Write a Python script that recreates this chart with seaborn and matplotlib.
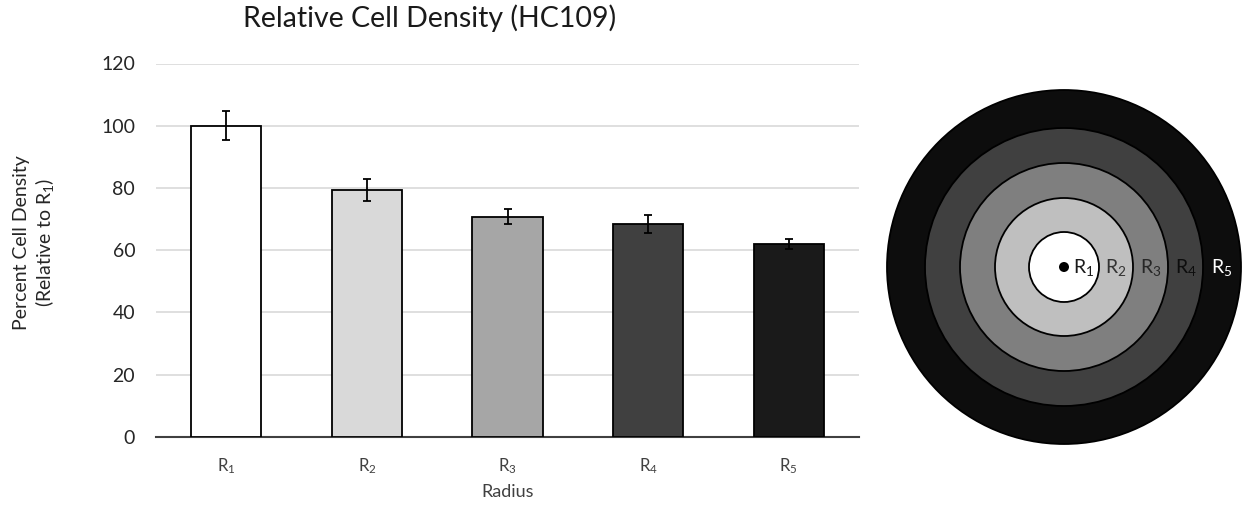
import numpy as np
import pandas as pd
import matplotlib
matplotlib.use("Agg")
import matplotlib.pyplot as plt
from matplotlib.patches import Circle
import seaborn as sns

# data
radius_labels = ["R$_1$", "R$_2$", "R$_3$", "R$_4$", "R$_5$"]
density = [100.0, 79.3, 70.8, 68.4, 62.0]
density_err = [4.7, 3.5, 2.5, 3.0, 1.7]
bar_colors = ["#ffffff", "#d9d9d9", "#a6a6a6", "#404040", "#1a1a1a"]

# schematic of the rings (outer radius of each zone, pixels)
ring_radii = [35, 69, 104, 139, 177]
ring_colors = ["#ffffff", "#bfbfbf", "#7f7f7f", "#404040", "#0d0d0d"]
ring_text_colors = ["#1a1a1a", "#333333", "#262626", "#0d0d0d", "#ffffff"]

sns.set_style("white")
plt.rcParams["font.family"] = ["Lato", "DejaVu Sans"]
plt.rcParams["mathtext.fontset"] = "custom"
plt.rcParams["mathtext.rm"] = "Lato"
plt.rcParams["mathtext.it"] = "Lato"

df = pd.DataFrame({"radius": radius_labels, "density": density})

fig = plt.figure(figsize=(12.51, 5.05), dpi=100)
ax = fig.add_axes([156 / 1251, 68.3 / 505, 703 / 1251, 373.2 / 505])

sns.barplot(data=df, x="radius", y="density", hue="radius", palette=bar_colors,
            legend=False, width=0.5, edgecolor="black", linewidth=1.3, ax=ax, zorder=3)
ax.errorbar(range(len(density)), density, yerr=density_err, fmt="none",
            ecolor="black", elinewidth=1.3, capsize=3, capthick=1.3, zorder=4)

ax.set_ylim(0, 120)
ax.set_xlim(-0.5, 4.5)
ax.set_yticks(range(0, 121, 20))
ax.yaxis.grid(True, color="#d9d9d9", linewidth=1.2, zorder=0)
ax.set_axisbelow(True)
for s in ["top", "right", "left"]:
    ax.spines[s].set_visible(False)
ax.spines["bottom"].set_color("#404040")
ax.spines["bottom"].set_linewidth(1.5)
ax.tick_params(axis="y", length=0, pad=15, labelsize=14, labelcolor="#262626")
ax.tick_params(axis="x", length=0, pad=14, labelsize=12, labelcolor="#404040")

ax.set_xlabel("Radius", fontsize=13, color="#404040", labelpad=6)
ax.set_ylabel("Percent Cell Density\n(Relative to R$_1$)", fontsize=14,
              color="#262626", linespacing=1.2)
ax.yaxis.set_label_coords(-0.142, 0.52)
ax.set_title("Relative Cell Density (HC109)", fontsize=20.5, color="#1a1a1a",
             x=(430 - 156) / 703, pad=26)

# ring diagram
cx = fig.add_axes([884 / 1251, 58 / 505, 360 / 1251, 360 / 505])
cx.set_xlim(-180, 180)
cx.set_ylim(-180, 180)
cx.set_aspect("equal")
cx.axis("off")
for r, c in zip(ring_radii[::-1], ring_colors[::-1]):
    cx.add_patch(Circle((0, 0), r, facecolor=c, edgecolor="black", linewidth=1.3))
cx.add_patch(Circle((0, 0), 5, facecolor="black", edgecolor="none"))
inner = [0] + ring_radii[:-1]
for i, lab in enumerate(radius_labels):
    xm = (inner[i] + ring_radii[i]) / 2
    if i == 0:
        xm = 20
    cx.text(xm, -1, lab, ha="center", va="center", fontsize=14,
            color=ring_text_colors[i])

fig.savefig("out.png", dpi=100)
